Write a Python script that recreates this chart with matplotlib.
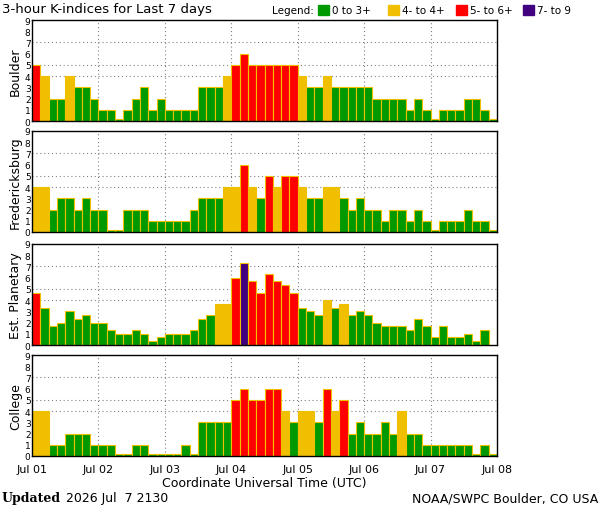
import numpy as np
import matplotlib
matplotlib.use("Agg")
import matplotlib.pyplot as plt

stations = ["Boulder", "Fredericksburg", "Est. Planetary", "College"]
day_labels = ["Jul 01", "Jul 02", "Jul 03", "Jul 04", "Jul 05", "Jul 06", "Jul 07", "Jul 08"]

boulder = [5, 4, 2, 2, 4, 3, 3, 2, 1, 1, 0, 1, 2, 3, 1, 2, 1, 1, 1, 1, 3, 3, 3, 4,
           5, 6, 5, 5, 5, 5, 5, 5, 4, 3, 3, 4, 3, 3, 3, 3, 3, 2, 2, 2, 2, 1, 2, 1,
           0, 1, 1, 1, 2, 2, 1, 0]
fredericksburg = [4, 4, 2, 3, 3, 2, 3, 2, 2, 0, 0, 2, 2, 2, 1, 1, 1, 1, 1, 2, 3, 3, 3, 4,
                  4, 6, 4, 3, 5, 4, 5, 5, 4, 3, 3, 4, 4, 3, 2, 3, 2, 2, 1, 2, 2, 1, 2, 1,
                  0, 1, 1, 1, 2, 1, 1, 0]
planetary = [4.67, 3.33, 1.67, 2, 3, 2.33, 2.67, 2, 2, 1.33, 1, 1, 1.33, 1, 0.33, 0.67,
             1, 1, 1, 1.33, 2.33, 2.67, 3.67, 3.67, 6, 7.33, 5.67, 4.67, 6.33, 5.67, 5.33, 4.67,
             3.33, 3, 2.67, 4, 3.33, 3.67, 2.67, 3, 2.67, 2, 1.67, 1.67, 1.67, 1.33, 2.33, 1.67,
             0.67, 1.67, 0.67, 0.67, 1, 0.33, 1.33, np.nan]
college = [4, 4, 1, 1, 2, 2, 2, 1, 1, 1, 0, 0, 1, 1, 0, 0, 0, 0, 1, 0, 3, 3, 3, 3,
           5, 6, 5, 5, 6, 6, 4, 3, 4, 4, 3, 6, 4, 5, 2, 3, 2, 2, 3, 2, 4, 2, 2, 1,
           1, 1, 1, 1, 1, 0, 1, 0]
series = [boulder, fredericksburg, planetary, college]

legend_labels = ["0 to 3+", "4- to 4+", "5- to 6+", "7- to 9"]
colors = ["#009900", "#f0c000", "#ff0000", "#400080"]


def kcolor(v):
    if v >= 6.67:
        return colors[3]
    if v >= 4.67:
        return colors[2]
    if v >= 3.67:
        return colors[1]
    return colors[0]


fig = plt.figure(figsize=(6.0, 5.1), dpi=100)
W, H = 600, 510
tops = [21, 132, 245, 356]
ph = 101
x0, x1 = 32, 497

for i, (name, vals) in enumerate(zip(stations, series)):
    ax = fig.add_axes([x0 / W, 1 - (tops[i] + ph) / H, (x1 - x0) / W, ph / H])
    vals = np.array(vals, dtype=float)
    x = np.arange(len(vals)) / 8.0
    for xi, v in zip(x, vals):
        if np.isnan(v):
            continue
        h = v if v > 0 else 0.22
        ax.bar(xi, h, width=1 / 8, align="edge", color=kcolor(v),
               edgecolor="#f0c000", linewidth=0.8, zorder=2)
    ax.set_xlim(0, 7)
    ax.set_ylim(0, 9)
    ax.set_yticks(range(10))
    ax.set_yticklabels([str(k) for k in range(10)], fontsize=6.5)
    ax.tick_params(axis="y", length=0, pad=1)
    ax.set_xticks(range(8))
    if i == 3:
        ax.set_xticklabels(day_labels, fontsize=8)
        ax.tick_params(axis="x", length=0, pad=6)
        ax.set_xlabel("Coordinate Universal Time (UTC)", fontsize=9, labelpad=1)
    else:
        ax.set_xticklabels([])
        ax.tick_params(axis="x", length=0)
    for d in range(1, 7):
        ax.axvline(d, color="#808080", linestyle=(0, (1, 2.5)), linewidth=0.8, zorder=1)
    for yv in (4, 5, 7):
        ax.axhline(yv, color="#808080", linestyle=(0, (1, 2.5)), linewidth=0.8, zorder=1)
    ax.set_ylabel(name, fontsize=9, labelpad=2)
    for s in ax.spines.values():
        s.set_linewidth(1.0)

fig.text(2 / W, 1 - 10 / H, "3-hour K-indices for Last 7 days", fontsize=9.5, va="center")
fig.text(272 / W, 1 - 11 / H, "Legend:", fontsize=7.5, va="center")
lx = [318, 388, 456, 523]
for xx, lab, c in zip(lx, legend_labels, colors):
    fig.patches.append(plt.Rectangle((xx / W, 1 - 16 / H), 11 / W, 10 / H,
                                     transform=fig.transFigure, color=c))
    fig.text((xx + 14) / W, 1 - 11 / H, lab, fontsize=7.5, va="center")

fig.text(2 / W, 1 - 499 / H, "Updated", fontsize=9, fontweight="bold",
         family="DejaVu Serif", va="center")
fig.text(66 / W, 1 - 499 / H, "2026 Jul  7 2130", fontsize=9, va="center")
fig.text(598 / W, 1 - 499 / H, "NOAA/SWPC Boulder, CO USA", fontsize=9,
         va="center", ha="right")

fig.savefig("out.png", dpi=100)
